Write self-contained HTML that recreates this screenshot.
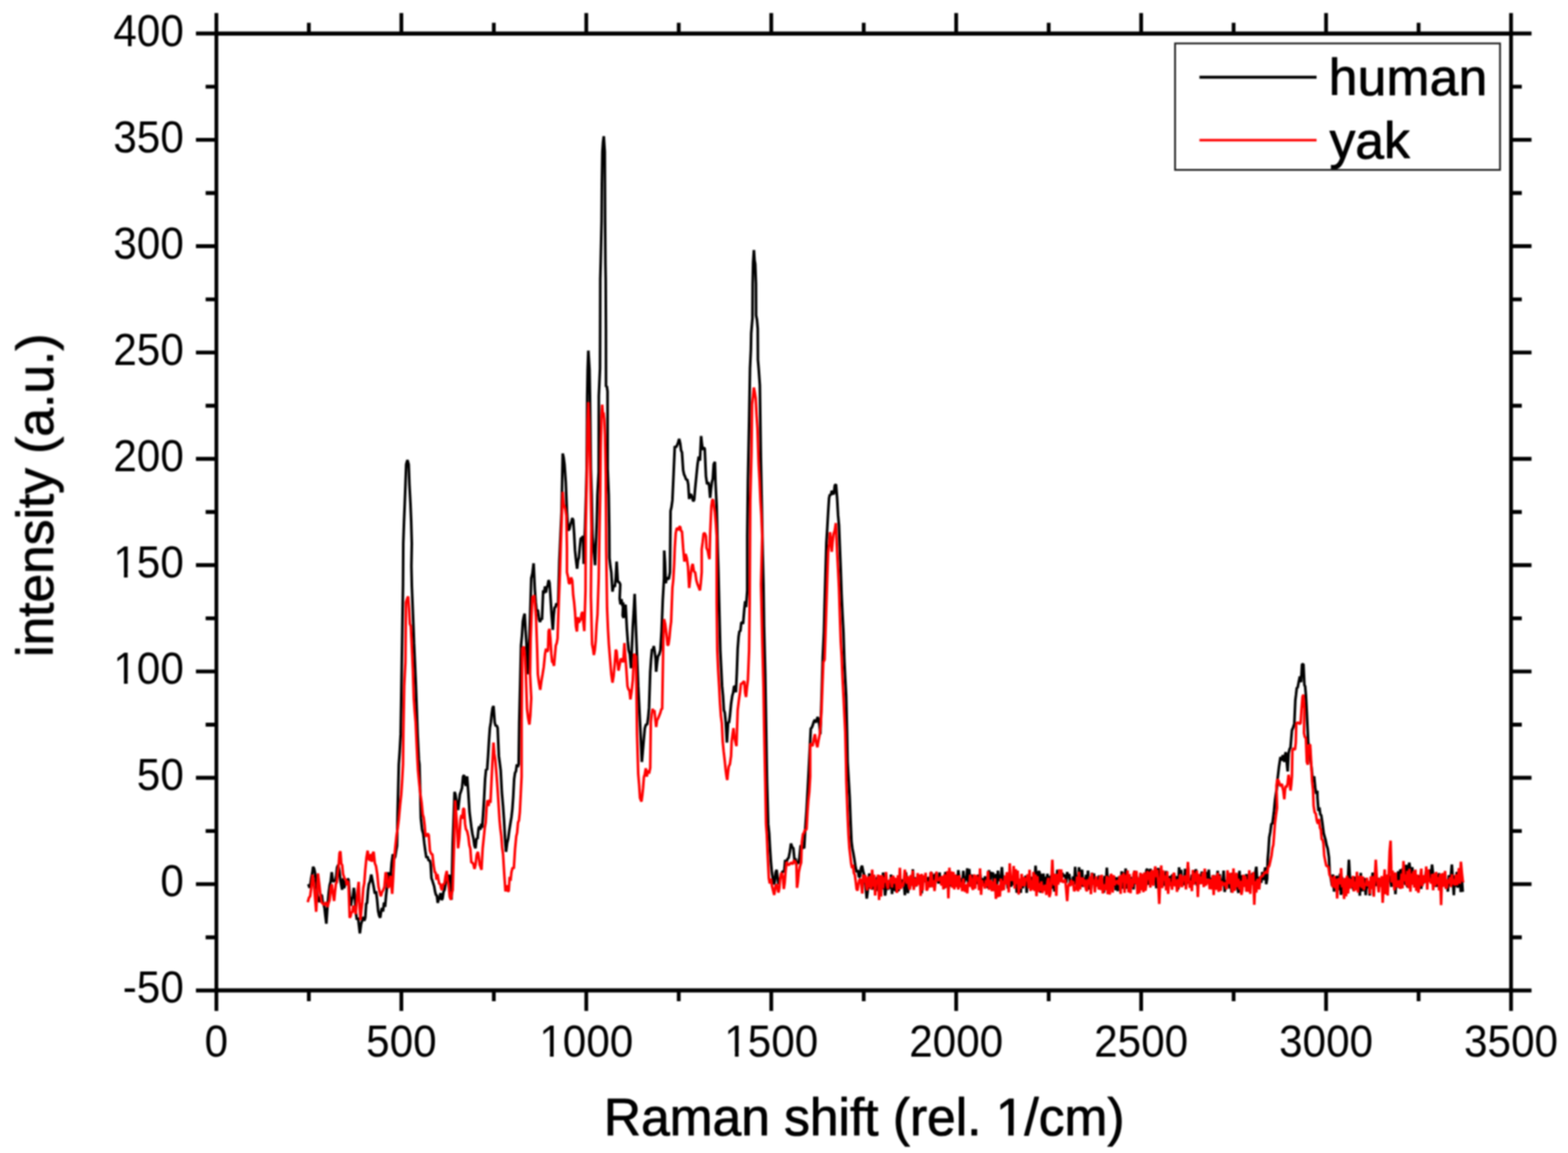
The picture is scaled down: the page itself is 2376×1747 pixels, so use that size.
<!DOCTYPE html>
<html lang="en"><head><meta charset="utf-8"><title>Raman spectra: human vs yak</title>
<style>
html,body{margin:0;padding:0;background:#fff;}
body{width:2376px;height:1747px;overflow:hidden;font-family:"Liberation Sans",Arial,sans-serif;}
svg{display:block}
</style></head><body>
<svg width="2376" height="1747" viewBox="0 0 2376 1747">
<rect x="0" y="0" width="2376" height="1747" fill="#fff"/>
<defs><filter id="soft" x="0" y="0" width="2376" height="1747" filterUnits="userSpaceOnUse" color-interpolation-filters="sRGB"><feGaussianBlur stdDeviation="0.8"/></filter></defs>
<g filter="url(#soft)">
<g fill="none" stroke-linejoin="bevel" stroke-linecap="butt">
<path stroke="#000" stroke-width="4.0" d="M467.2,1339.7 469.1,1345.2 470.4,1339.3 471.8,1329.1 473.2,1322.7 474.5,1313.4 475.9,1315.9 477.2,1321.6 479.1,1336.1 480.9,1354.8 482.7,1365.1 484.5,1366.1 486.3,1356.1 487.7,1356.6 489.0,1367.1 490.4,1370.3 491.8,1376.0 493.1,1388.3 494.5,1399.6 496.3,1372.4 498.1,1352.4 499.6,1341.0 501.1,1335.4 502.7,1321.6 504.5,1336.1 506.3,1334.5 508.1,1334.3 509.5,1327.1 510.8,1314.3 512.6,1310.3 514.5,1321.6 515.8,1333.9 517.2,1341.5 518.5,1348.1 519.9,1330.7 521.3,1345.7 522.6,1341.5 524.0,1334.8 525.4,1337.4 526.7,1332.0 528.1,1332.5 529.9,1356.1 531.7,1372.4 533.2,1362.4 534.7,1359.1 536.2,1345.2 537.6,1357.0 539.0,1381.5 540.8,1393.4 542.6,1390.6 544.0,1402.7 545.3,1414.2 547.1,1400.4 549.0,1394.2 550.5,1389.3 552.0,1395.1 553.5,1390.6 554.9,1369.0 556.2,1368.6 557.6,1350.0 558.9,1339.7 560.8,1335.2 562.6,1325.2 564.4,1334.1 566.2,1343.4 568.0,1354.0 569.8,1350.6 571.4,1363.1 573.0,1380.3 574.6,1387.6 576.2,1390.6 577.6,1379.9 578.9,1376.0 580.4,1381.1 581.9,1367.4 583.5,1374.2 585.0,1356.8 586.5,1343.7 588.0,1321.6 589.8,1330.0 591.6,1330.6 593.4,1308.1 595.3,1294.3 597.1,1301.3 598.9,1298.0 600.2,1289.4 601.6,1281.6 602.5,1230.8 604.3,1158.2 605.7,1138.5 607.1,1112.4 608.0,1057.9 608.9,998.0 610.7,885.4 611.1,823.4 612.2,790.7 613.3,763.5 614.4,734.1 615.5,703.6 617.4,697.0 619.3,703.6 620.4,734.1 622.0,763.5 623.1,790.7 624.0,823.4 623.4,858.2 624.1,889.0 625.8,931.3 627.4,974.4 628.8,1005.7 630.1,1036.1 631.5,1074.8 632.8,1112.4 634.7,1150.9 635.6,1158.2 636.7,1197.9 637.7,1239.9 639.6,1257.2 641.4,1263.5 642.9,1277.4 644.5,1289.2 646.1,1299.8 647.8,1297.8 649.5,1303.9 651.2,1303.4 652.5,1308.9 653.8,1330.6 655.2,1334.3 656.5,1338.7 657.9,1343.0 659.3,1351.1 660.6,1356.1 662.0,1356.7 663.3,1367.9 664.7,1362.9 666.1,1359.7 667.6,1353.2 669.1,1363.5 670.6,1361.5 672.1,1351.1 673.6,1348.3 675.1,1339.7 676.5,1331.0 677.9,1331.7 679.2,1336.7 680.6,1325.2 682.4,1341.7 684.2,1363.3 685.1,1317.9 686.0,1278.0 687.4,1240.9 688.8,1199.9 690.1,1203.5 691.5,1212.6 692.9,1223.1 694.2,1227.2 695.6,1214.4 696.9,1203.5 698.5,1199.1 700.1,1193.9 701.7,1176.5 703.3,1174.5 704.7,1186.1 706.0,1190.8 707.8,1176.3 709.6,1200.2 711.5,1230.8 712.8,1241.2 714.2,1252.6 715.8,1263.4 717.4,1270.3 719.0,1281.6 720.5,1285.3 722.1,1270.4 723.6,1270.7 725.1,1256.2 726.4,1252.0 727.8,1257.3 729.2,1248.4 730.5,1254.4 732.0,1234.6 733.6,1209.3 735.1,1179.9 736.6,1165.3 738.1,1166.6 739.6,1145.4 741.0,1121.7 742.3,1103.3 743.7,1094.7 745.1,1081.5 746.4,1072.8 747.8,1069.7 749.6,1094.2 751.1,1100.0 752.6,1099.3 754.1,1103.3 755.9,1145.4 757.3,1156.0 758.7,1167.2 760.5,1201.0 762.3,1221.7 763.8,1243.2 765.3,1271.1 766.8,1290.7 768.5,1277.2 770.1,1270.8 771.7,1258.3 773.4,1247.6 775.0,1238.0 776.4,1225.6 777.7,1207.3 779.1,1180.2 780.5,1170.9 781.8,1168.8 783.2,1158.2 784.5,1162.2 785.9,1158.2 786.8,1094.2 788.2,1036.6 789.5,978.0 790.9,963.6 792.3,941.7 793.6,934.9 795.0,929.9 796.3,953.2 797.7,974.4 799.5,1021.6 800.9,992.5 802.2,967.1 803.2,936.2 805.0,876.3 806.8,868.7 808.6,853.6 810.4,892.7 811.8,912.2 813.1,925.3 815.0,924.3 816.8,938.0 818.3,942.4 819.8,937.4 821.3,939.0 823.1,894.5 824.5,899.2 825.9,888.5 827.2,898.0 828.6,889.9 829.9,887.0 831.3,879.0 832.7,883.1 834.0,901.7 835.8,930.8 837.7,954.4 839.0,932.8 840.4,919.9 841.7,920.3 843.1,914.2 844.5,917.6 845.8,912.6 847.6,849.1 849.3,810.8 850.9,776.0 852.7,687.1 854.1,693.4 855.4,703.4 857.3,730.6 859.1,776.0 860.9,803.3 862.7,802.1 864.5,794.2 865.9,790.2 867.2,785.1 868.6,787.8 870.0,808.7 871.3,833.7 872.7,847.3 874.5,861.8 875.9,849.0 877.2,845.4 878.6,829.2 880.0,816.0 881.8,814.9 883.6,812.4 884.5,854.5 885.5,822.6 886.5,800.0 888.0,750.0 889.0,710.0 889.8,600.0 890.5,560.0 891.5,531.2 893.3,560.0 894.0,600.0 895.3,710.0 896.6,750.0 897.8,812.0 899.1,828.0 900.4,840.1 901.7,856.3 903.0,823.3 904.3,790.0 905.3,750.0 907.2,715.0 907.4,600.0 909.2,558.0 909.4,500.0 909.6,423.0 910.3,395.0 911.6,335.0 912.0,280.0 912.8,230.0 913.8,215.2 914.9,206.5 916.4,230.0 916.7,290.0 916.9,335.0 917.4,400.0 917.8,423.0 918.2,500.0 918.3,586.0 919.5,585.1 920.6,593.0 920.8,710.0 922.4,750.0 923.2,800.0 923.5,845.4 924.9,857.9 926.3,867.2 928.1,896.3 929.9,887.1 931.7,889.0 933.1,875.3 934.4,850.9 936.2,881.8 938.1,881.8 939.9,885.4 939.0,907.2 940.3,915.6 941.7,907.8 943.1,918.3 944.4,912.6 943.5,932.6 945.0,936.1 946.5,919.9 948.0,916.3 949.9,952.6 951.2,970.5 952.6,985.3 954.4,991.3 956.2,1012.5 957.6,979.1 958.9,948.9 960.3,927.0 961.7,899.9 963.5,948.9 965.3,994.3 967.1,1039.7 968.9,1076.0 970.7,1112.4 972.6,1154.5 973.9,1139.7 975.3,1123.3 977.1,1103.3 978.9,1097.7 980.7,1097.8 982.1,1087.9 983.5,1072.4 985.3,1017.9 986.6,999.0 988.0,983.4 989.4,984.6 990.7,978.9 992.1,987.6 993.4,998.0 994.3,1017.9 995.7,1004.0 997.1,994.3 998.9,991.6 1000.7,985.3 1002.5,956.2 1004.3,909.0 1006.2,876.3 1006.5,834.1 1007.7,852.2 1008.9,883.6 1010.2,875.3 1011.6,876.3 1013.4,877.5 1015.2,867.2 1016.1,774.2 1017.5,768.3 1018.9,757.9 1020.7,717.9 1022.5,676.2 1024.3,677.9 1026.1,674.4 1027.6,670.4 1029.1,665.0 1030.7,671.6 1032.0,682.3 1033.4,685.3 1035.2,712.5 1036.6,719.0 1037.9,721.6 1039.7,726.6 1041.6,727.0 1042.9,734.1 1044.3,756.1 1045.6,750.0 1047.0,748.8 1048.8,754.0 1050.6,759.7 1052.0,756.8 1053.4,739.7 1055.2,721.6 1057.0,703.4 1058.8,691.8 1060.6,698.0 1062.4,660.7 1063.8,674.2 1065.2,681.6 1066.5,678.5 1067.9,679.8 1069.7,721.6 1071.5,733.6 1073.3,730.6 1074.7,736.6 1076.1,754.3 1077.4,740.7 1078.8,730.6 1080.1,725.5 1081.5,703.4 1083.3,699.8 1084.2,730.6 1086.0,767.0 1087.5,830.5 1088.6,866.2 1089.7,912.6 1091.5,985.3 1092.9,1013.0 1094.2,1039.7 1095.6,1054.1 1096.9,1076.0 1098.3,1079.9 1099.7,1094.2 1101.5,1125.1 1103.3,1094.2 1104.7,1095.0 1106.0,1085.1 1107.8,1066.5 1109.6,1054.3 1111.0,1049.5 1112.4,1039.7 1113.7,1040.3 1115.1,1048.8 1116.5,1019.9 1117.8,983.4 1119.2,964.9 1120.5,956.2 1121.9,956.4 1123.3,943.5 1124.6,943.0 1126.0,945.3 1127.8,923.5 1129.2,910.9 1130.5,919.9 1132.3,894.5 1132.3,812.4 1133.3,730.6 1135.1,639.9 1136.5,558.2 1137.8,530.0 1138.3,505.0 1140.2,482.0 1140.5,430.0 1141.2,398.0 1142.4,378.9 1143.4,394.3 1144.4,400.0 1145.5,430.0 1145.7,478.0 1147.0,484.1 1148.2,498.0 1148.5,545.0 1149.6,558.2 1151.4,583.6 1152.9,692.5 1154.7,781.5 1155.8,839.9 1156.9,885.4 1157.8,948.9 1159.6,1021.6 1160.5,1076.0 1161.8,1158.2 1162.3,1185.4 1164.1,1248.9 1165.5,1262.2 1166.8,1285.3 1168.2,1306.1 1169.6,1321.6 1170.9,1329.9 1172.3,1339.7 1173.8,1337.1 1175.3,1322.1 1176.8,1317.9 1178.2,1329.4 1179.6,1339.7 1180.9,1332.0 1182.3,1330.6 1183.8,1328.2 1185.3,1321.0 1186.8,1320.5 1188.3,1320.3 1189.8,1302.8 1191.4,1308.9 1193.2,1301.6 1195.0,1299.8 1196.8,1290.9 1198.6,1278.0 1200.4,1283.6 1202.2,1285.3 1204.1,1305.2 1205.4,1300.6 1206.8,1310.8 1208.1,1305.2 1209.5,1308.9 1211.3,1299.8 1213.1,1281.6 1214.5,1281.2 1215.9,1285.8 1217.2,1283.3 1218.6,1285.3 1220.4,1252.6 1222.2,1226.7 1224.0,1194.5 1225.5,1166.6 1227.1,1133.6 1228.6,1103.3 1229.9,1103.1 1231.3,1099.6 1233.1,1093.6 1234.9,1090.6 1236.3,1094.8 1237.7,1090.3 1239.0,1086.5 1240.4,1090.6 1241.7,1099.2 1243.1,1112.4 1244.9,1057.9 1246.7,996.2 1248.5,958.0 1249.5,918.0 1250.8,871.3 1252.2,822.6 1253.5,801.3 1254.9,776.3 1256.3,754.5 1257.6,749.2 1259.0,750.3 1260.4,743.6 1261.9,746.6 1263.4,749.1 1265.0,735.4 1266.8,734.0 1268.5,754.5 1269.9,780.2 1271.3,795.4 1272.6,828.7 1274.0,863.5 1275.3,902.2 1276.7,931.6 1278.1,957.9 1279.4,999.7 1280.8,1028.1 1282.2,1054.2 1283.5,1108.7 1284.4,1154.5 1286.2,1185.4 1287.5,1207.8 1288.9,1243.5 1290.3,1275.3 1291.6,1285.3 1293.0,1292.3 1294.3,1299.8 1296.2,1312.1 1298.0,1321.6 1299.8,1318.4 1301.6,1328.8 1303.1,1328.2 1304.6,1315.8 1306.2,1311.6 1308.0,1320.2 1309.8,1327.0 1311.6,1342.6 1313.4,1361.5 1315.7,1342.8 1317.2,1323.3 1318.7,1346.1 1320.2,1328.1 1321.7,1348.0 1323.2,1327.6 1324.7,1338.9 1326.2,1346.9 1327.7,1350.0 1329.2,1328.6 1330.7,1341.7 1332.2,1332.1 1333.7,1345.9 1335.2,1335.3 1336.7,1347.2 1338.2,1322.1 1339.7,1333.3 1341.2,1357.1 1342.7,1346.2 1344.2,1336.9 1345.7,1348.2 1347.2,1333.4 1348.7,1346.7 1350.2,1325.2 1351.7,1354.6 1353.2,1333.1 1354.7,1349.9 1356.2,1335.4 1357.7,1351.1 1359.2,1332.4 1360.7,1349.3 1362.2,1348.4 1363.7,1327.2 1365.2,1341.5 1366.7,1332.6 1368.2,1343.5 1369.7,1338.4 1371.2,1356.3 1372.7,1321.7 1374.2,1335.8 1375.7,1353.3 1377.2,1338.3 1378.7,1345.1 1380.2,1334.4 1381.7,1340.6 1383.2,1317.2 1384.7,1345.1 1386.2,1329.2 1387.7,1343.1 1389.2,1337.5 1390.7,1339.4 1392.2,1331.0 1393.7,1331.6 1395.2,1338.9 1396.7,1353.6 1398.2,1327.1 1399.7,1333.0 1401.2,1328.5 1402.7,1336.7 1404.2,1333.3 1405.7,1338.9 1407.2,1328.8 1408.7,1344.4 1410.2,1322.7 1411.7,1322.2 1413.2,1339.5 1414.7,1324.8 1416.2,1338.5 1417.7,1323.2 1419.2,1335.4 1420.7,1330.1 1422.2,1338.6 1423.7,1321.9 1425.2,1338.8 1426.7,1330.8 1428.2,1340.9 1429.7,1327.4 1431.2,1346.0 1432.7,1321.2 1434.2,1340.5 1435.7,1341.2 1437.2,1346.6 1438.7,1335.9 1440.2,1342.8 1441.7,1328.4 1443.2,1325.7 1444.7,1338.2 1446.2,1333.0 1447.7,1337.6 1449.2,1325.5 1450.7,1337.7 1452.2,1318.4 1453.7,1332.6 1455.2,1336.0 1456.7,1330.4 1458.2,1342.1 1459.7,1319.4 1461.2,1337.6 1462.7,1328.0 1464.2,1333.8 1465.7,1315.7 1467.2,1342.3 1468.7,1316.6 1470.2,1343.4 1471.7,1327.7 1473.2,1325.7 1474.7,1339.3 1476.2,1330.7 1477.7,1339.6 1479.2,1327.5 1480.7,1339.5 1482.2,1325.3 1483.7,1333.6 1485.2,1324.8 1486.7,1334.5 1488.2,1330.7 1489.7,1339.7 1491.2,1339.4 1492.7,1327.8 1494.2,1335.4 1495.7,1328.9 1497.2,1345.9 1498.7,1318.4 1500.2,1341.2 1501.7,1321.1 1503.2,1328.2 1504.7,1321.8 1506.2,1344.3 1507.7,1341.5 1509.2,1324.1 1510.7,1340.2 1512.2,1319.2 1513.7,1335.1 1515.2,1325.8 1516.7,1330.7 1518.2,1313.8 1519.7,1336.0 1521.2,1326.7 1522.7,1338.6 1524.2,1336.4 1525.7,1331.4 1527.2,1346.2 1528.7,1328.0 1530.2,1338.6 1531.7,1343.2 1533.2,1340.0 1534.7,1327.7 1536.2,1340.9 1537.7,1323.9 1539.2,1331.0 1540.7,1352.7 1542.2,1337.4 1543.7,1345.1 1545.2,1332.0 1546.7,1352.9 1548.2,1329.7 1549.7,1345.8 1551.2,1338.4 1552.7,1341.1 1554.2,1326.8 1555.7,1352.8 1557.2,1332.0 1558.7,1337.2 1560.2,1334.9 1561.7,1341.7 1563.2,1328.5 1564.7,1336.5 1566.2,1331.9 1567.7,1337.1 1569.2,1311.6 1570.7,1332.1 1572.2,1324.6 1573.7,1320.3 1575.2,1321.4 1576.7,1352.7 1578.2,1323.8 1579.7,1339.8 1581.2,1323.7 1582.7,1348.2 1584.2,1328.4 1585.7,1342.1 1587.2,1324.0 1588.7,1344.5 1590.2,1327.2 1591.7,1341.3 1593.2,1325.7 1594.7,1346.5 1596.2,1323.5 1597.7,1350.8 1599.2,1325.2 1600.7,1337.1 1602.2,1318.0 1603.7,1334.1 1605.2,1336.4 1606.7,1321.0 1608.2,1330.0 1609.7,1322.5 1611.2,1327.2 1612.7,1327.7 1614.2,1325.3 1615.7,1337.5 1617.2,1321.3 1618.7,1330.6 1620.2,1324.3 1621.7,1338.9 1623.2,1340.5 1624.7,1336.5 1626.2,1328.0 1627.7,1340.5 1629.2,1313.4 1630.7,1337.8 1632.2,1327.1 1633.7,1337.0 1635.2,1314.0 1636.7,1340.3 1638.2,1324.1 1639.7,1317.8 1641.2,1344.0 1642.7,1329.6 1644.2,1342.9 1645.7,1325.3 1647.2,1337.9 1648.7,1319.2 1650.2,1347.9 1651.7,1336.4 1653.2,1346.3 1654.7,1322.4 1656.2,1340.4 1657.7,1323.5 1659.2,1343.7 1660.7,1333.5 1662.2,1340.0 1663.7,1339.1 1665.2,1326.4 1666.7,1340.9 1668.2,1326.6 1669.7,1345.4 1671.2,1331.2 1672.7,1352.7 1674.2,1327.0 1675.7,1341.8 1677.2,1314.5 1678.7,1340.0 1680.2,1327.7 1681.7,1333.3 1683.2,1331.8 1684.7,1341.2 1686.2,1333.3 1687.7,1343.3 1689.2,1328.7 1690.7,1348.9 1692.2,1329.5 1693.7,1350.3 1695.2,1328.7 1696.7,1333.6 1698.2,1345.2 1699.7,1320.0 1701.2,1346.7 1702.7,1321.6 1704.2,1338.9 1705.7,1315.8 1707.2,1346.5 1708.7,1340.5 1710.2,1330.8 1711.7,1339.8 1713.2,1328.6 1714.7,1344.8 1716.2,1336.7 1717.7,1347.6 1719.2,1319.1 1720.7,1339.8 1722.2,1327.0 1723.7,1343.7 1725.2,1331.0 1726.7,1341.2 1728.2,1322.9 1729.7,1337.6 1731.2,1344.6 1732.7,1327.9 1734.2,1338.4 1735.7,1343.0 1737.2,1318.2 1738.7,1316.6 1740.2,1340.5 1741.7,1331.4 1743.2,1316.4 1744.7,1323.7 1746.2,1338.5 1747.7,1326.6 1749.2,1336.6 1750.7,1316.9 1752.2,1345.9 1753.7,1327.2 1755.2,1315.2 1756.7,1341.2 1758.2,1327.8 1759.7,1331.9 1761.2,1343.9 1762.7,1324.6 1764.2,1342.1 1765.7,1329.9 1767.2,1319.7 1768.7,1342.7 1770.2,1331.1 1771.7,1340.7 1773.2,1327.3 1774.7,1337.4 1776.2,1324.9 1777.7,1335.6 1779.2,1324.2 1780.7,1340.2 1782.2,1329.6 1783.7,1328.6 1785.2,1348.0 1786.7,1314.1 1788.2,1339.9 1789.7,1317.9 1791.2,1337.3 1792.7,1334.5 1794.2,1341.2 1795.7,1316.4 1797.2,1335.5 1798.7,1339.1 1800.2,1314.5 1801.7,1337.2 1803.2,1331.5 1804.7,1340.3 1806.2,1325.2 1807.7,1338.6 1809.2,1318.4 1810.7,1338.9 1812.2,1316.8 1813.7,1341.9 1815.2,1331.9 1816.7,1337.7 1818.2,1327.1 1819.7,1330.7 1821.2,1320.6 1822.7,1336.6 1824.2,1327.6 1825.7,1333.1 1827.2,1322.7 1828.7,1323.0 1830.2,1331.4 1831.7,1317.7 1833.2,1345.3 1834.7,1330.0 1836.2,1336.3 1837.7,1332.8 1839.2,1325.9 1840.7,1338.4 1842.2,1342.9 1843.7,1331.8 1845.2,1319.4 1846.7,1344.8 1848.2,1324.7 1849.7,1339.5 1851.2,1332.2 1852.7,1338.1 1854.2,1319.2 1855.7,1351.3 1857.2,1343.1 1858.7,1333.7 1860.2,1339.0 1861.7,1332.1 1863.2,1346.4 1864.7,1332.9 1866.2,1352.1 1867.7,1322.4 1869.2,1339.9 1870.7,1332.5 1872.2,1341.5 1873.7,1324.5 1875.2,1345.5 1876.7,1353.0 1878.2,1319.3 1879.7,1349.1 1881.2,1340.3 1882.7,1326.3 1884.2,1341.8 1885.7,1330.5 1887.2,1334.4 1888.7,1324.5 1890.2,1334.3 1891.7,1325.0 1893.2,1343.0 1894.7,1329.0 1896.2,1337.9 1897.7,1322.9 1899.2,1330.9 1900.7,1341.1 1902.2,1322.4 1903.7,1313.2 1905.2,1335.5 1906.7,1328.8 1908.2,1341.3 1909.7,1328.6 1911.2,1337.5 1912.7,1321.1 1914.2,1333.4 1915.7,1323.5 1917.2,1314.2 1918.7,1339.7 1920.1,1331.4 1920.9,1302.5 1922.1,1288.3 1923.3,1268.9 1924.9,1260.6 1926.5,1248.3 1928.1,1248.1 1929.3,1238.6 1930.5,1228.8 1932.1,1212.0 1933.7,1200.8 1934.8,1194.9 1935.9,1180.5 1937.0,1170.9 1938.1,1161.6 1939.2,1154.2 1940.3,1147.0 1942.1,1152.4 1943.9,1144.1 1945.0,1148.8 1946.1,1154.3 1947.2,1144.3 1948.3,1139.8 1949.7,1153.5 1951.2,1168.8 1952.6,1141.2 1954.1,1134.9 1955.5,1132.5 1956.6,1119.2 1957.7,1106.4 1959.5,1102.4 1961.3,1096.2 1962.8,1061.3 1963.9,1052.3 1965.0,1042.5 1966.4,1041.6 1967.9,1033.7 1969.7,1024.8 1971.5,1033.7 1973.0,1006.1 1974.1,1006.5 1975.1,1006.1 1976.6,1038.1 1977.7,1039.9 1978.8,1052.6 1980.2,1078.8 1981.7,1110.7 1982.4,1125.3 1983.6,1129.3 1984.7,1128.2 1986.2,1154.3 1987.3,1162.2 1988.4,1173.2 1989.8,1184.7 1991.3,1176.1 1993.0,1193.5 1994.6,1203.0 1996.2,1197.9 1996.3,1208.0 1997.9,1228.8 1999.3,1223.4 2000.7,1234.2 2002.1,1235.2 2003.9,1247.6 2005.8,1262.5 2007.2,1267.5 2008.7,1272.9 2010.1,1280.1 2011.9,1285.8 2013.8,1299.3 2015.0,1324.1 2016.2,1328.2 2018.5,1342.2 2020.0,1325.0 2021.5,1351.0 2023.0,1328.5 2024.5,1345.6 2026.0,1326.9 2027.5,1347.1 2029.0,1347.2 2030.5,1323.8 2032.0,1356.0 2033.5,1328.5 2035.0,1353.9 2036.5,1332.4 2038.0,1341.3 2039.5,1333.1 2041.0,1348.5 2042.5,1334.1 2044.0,1302.5 2045.5,1328.9 2047.0,1343.6 2048.5,1329.3 2050.0,1344.9 2051.5,1349.7 2053.0,1328.2 2054.5,1344.7 2056.0,1329.2 2057.5,1347.9 2059.0,1331.1 2060.5,1357.2 2062.0,1322.6 2063.5,1347.6 2065.0,1350.0 2066.5,1330.6 2068.0,1333.7 2069.5,1356.4 2071.0,1334.2 2072.5,1345.6 2074.0,1335.4 2075.5,1356.9 2077.0,1334.0 2078.5,1342.8 2080.0,1322.2 2081.5,1356.3 2083.0,1326.0 2084.5,1342.5 2086.0,1334.0 2087.5,1338.2 2089.0,1330.3 2090.5,1334.8 2092.0,1338.6 2093.5,1336.6 2095.0,1334.7 2096.5,1347.9 2098.0,1334.3 2099.5,1349.3 2101.0,1325.4 2102.5,1350.2 2104.0,1325.4 2105.5,1336.3 2107.0,1326.8 2108.5,1343.7 2110.0,1323.0 2111.5,1342.0 2113.0,1322.9 2114.5,1355.0 2116.0,1330.1 2117.5,1333.8 2119.0,1320.0 2120.5,1345.7 2122.0,1317.0 2123.5,1338.4 2125.0,1315.8 2126.5,1337.7 2128.0,1320.2 2129.5,1340.8 2131.0,1310.4 2132.5,1344.3 2134.0,1319.0 2135.5,1307.0 2137.0,1317.8 2138.5,1339.7 2140.0,1313.8 2141.5,1340.3 2143.0,1321.1 2144.5,1331.1 2146.0,1328.0 2147.5,1333.1 2149.0,1326.4 2150.5,1342.3 2152.0,1330.9 2153.5,1346.8 2155.0,1328.0 2156.5,1339.2 2158.0,1331.2 2159.5,1334.0 2161.0,1318.8 2162.5,1333.7 2164.0,1319.9 2165.5,1336.1 2167.0,1317.5 2168.5,1325.1 2170.0,1310.0 2171.5,1324.5 2173.0,1332.6 2174.5,1328.8 2176.0,1343.7 2177.5,1326.0 2179.0,1343.9 2180.5,1323.0 2182.0,1339.9 2183.5,1332.3 2185.0,1343.5 2186.5,1331.8 2188.0,1341.8 2189.5,1325.8 2191.0,1346.7 2192.5,1335.0 2194.0,1351.0 2195.5,1326.0 2197.0,1341.9 2198.5,1326.6 2200.0,1310.0 2201.5,1333.5 2203.0,1356.3 2204.5,1326.5 2206.0,1343.5 2207.5,1321.2 2209.0,1345.2 2210.5,1319.8 2212.0,1322.1 2213.5,1351.6 2215.0,1328.7 2216.5,1351.3"/>
<path stroke="#ff0000" stroke-width="3.9" d="M466.3,1367.0 468.2,1360.2 470.0,1357.9 471.8,1343.6 473.6,1325.2 475.4,1335.9 477.2,1357.9 479.1,1381.5 480.4,1355.5 481.8,1323.4 483.6,1338.2 485.4,1354.3 487.2,1367.0 489.0,1368.8 490.6,1370.6 492.1,1371.4 493.6,1367.0 494.9,1370.2 496.3,1374.2 497.9,1368.1 499.5,1363.8 501.1,1345.7 502.7,1339.7 504.5,1354.0 506.3,1365.1 507.6,1351.8 509.0,1338.9 510.4,1336.9 511.7,1321.6 513.1,1311.4 514.5,1292.5 515.8,1289.8 517.2,1308.9 518.5,1310.6 519.9,1324.6 521.3,1328.6 522.6,1332.5 524.0,1331.4 525.4,1341.3 526.7,1334.5 528.1,1339.7 529.9,1390.6 531.3,1388.3 532.6,1381.2 534.0,1383.1 535.3,1372.4 537.2,1375.6 539.0,1385.1 540.5,1366.7 542.0,1349.4 543.5,1336.1 544.9,1373.3 546.2,1394.2 547.6,1378.5 549.0,1367.0 550.5,1345.8 552.0,1338.2 553.5,1317.9 555.3,1299.5 557.1,1288.9 558.9,1301.9 560.8,1303.4 562.1,1294.0 563.5,1305.8 564.8,1293.2 566.2,1290.7 568.0,1307.9 569.8,1312.5 571.7,1324.6 573.5,1343.4 575.3,1351.3 577.1,1357.9 578.9,1351.8 580.7,1348.8 582.5,1344.0 584.4,1321.6 586.2,1327.0 588.0,1345.2 589.8,1342.1 591.6,1327.0 593.0,1341.2 594.3,1354.3 595.7,1331.3 597.1,1303.4 598.9,1284.5 600.7,1267.1 602.5,1255.7 604.3,1241.7 606.2,1220.5 608.0,1203.5 609.3,1184.0 610.7,1158.2 611.2,1112.4 612.5,1039.7 614.3,1003.4 615.2,912.6 617.0,907.2 618.4,903.7 619.8,921.7 621.1,945.2 622.5,948.9 624.3,985.3 625.7,1016.9 627.0,1057.9 628.4,1077.6 629.8,1094.2 631.1,1122.1 632.5,1150.9 633.4,1167.2 635.2,1186.3 637.0,1203.5 638.8,1215.7 640.6,1234.4 642.0,1238.7 643.4,1249.7 644.7,1266.2 646.1,1267.1 647.9,1263.0 649.7,1265.3 651.5,1288.9 653.4,1293.8 655.2,1294.3 657.0,1310.9 658.8,1321.6 660.2,1322.3 661.5,1333.0 662.9,1324.6 664.3,1332.5 665.6,1339.6 667.0,1338.8 668.3,1345.1 669.7,1348.8 671.5,1339.3 673.3,1339.7 675.1,1327.8 677.0,1319.8 678.3,1334.1 679.7,1339.7 681.5,1358.8 683.3,1363.3 684.7,1353.2 686.0,1348.8 687.9,1285.3 689.7,1212.6 691.0,1229.4 692.4,1248.9 694.2,1285.3 696.0,1269.9 697.8,1241.7 699.2,1235.0 700.6,1240.6 701.9,1225.5 703.3,1225.3 704.7,1248.2 706.0,1256.2 707.8,1259.3 709.6,1267.1 711.2,1280.6 712.7,1286.0 714.2,1307.0 715.8,1306.6 717.4,1309.6 719.0,1316.5 720.5,1310.7 722.4,1295.2 724.2,1290.7 725.5,1298.5 726.9,1310.4 728.3,1313.9 729.6,1317.9 731.4,1285.5 733.3,1267.1 734.6,1254.2 736.0,1246.0 737.3,1223.8 738.7,1212.6 740.2,1221.1 741.7,1211.8 743.2,1216.3 744.6,1187.3 746.0,1158.2 747.8,1125.1 749.1,1142.0 750.5,1150.9 752.3,1172.7 753.8,1193.0 755.3,1215.8 756.9,1241.7 758.2,1255.8 759.6,1266.5 760.9,1284.2 762.3,1294.3 764.1,1324.6 765.9,1350.6 767.7,1341.4 769.6,1350.6 770.9,1349.9 772.3,1328.7 773.6,1334.5 775.0,1321.6 776.8,1314.6 778.6,1316.1 780.5,1285.7 782.3,1267.1 783.6,1261.9 785.0,1246.1 786.4,1243.1 787.7,1230.8 789.1,1203.2 790.4,1176.3 790.4,1094.2 791.4,981.6 792.7,981.6 794.1,979.8 795.4,994.3 796.8,1021.6 798.6,1074.2 800.4,1088.7 802.2,1097.8 803.6,1084.3 805.0,1057.9 803.2,1021.6 804.1,967.1 805.4,933.6 806.8,903.5 808.1,905.6 809.5,901.7 810.9,917.8 812.2,934.4 814.0,985.3 815.0,1021.6 816.8,1035.2 818.6,1045.2 820.4,1031.9 822.2,1021.6 824.0,1010.2 825.9,990.7 827.4,982.8 828.9,987.5 830.4,985.3 831.3,956.2 832.7,953.0 834.0,967.1 835.4,990.4 836.7,1003.4 838.1,1003.4 839.5,1008.9 840.8,994.1 842.2,978.0 843.6,974.6 844.9,967.1 846.7,912.6 848.5,867.2 849.7,826.8 850.9,794.2 852.7,745.2 854.1,764.1 855.4,767.0 856.8,772.3 858.2,781.5 859.1,830.5 859.1,867.2 860.6,873.5 862.1,884.0 863.6,883.6 865.4,874.8 867.2,879.9 868.6,901.8 870.0,912.6 871.3,926.7 872.7,948.9 874.2,956.9 875.7,935.2 877.2,943.5 878.6,940.5 880.0,938.4 881.3,929.8 882.7,927.2 884.0,943.0 885.4,956.2 887.2,894.5 887.6,800.0 888.6,750.0 889.6,700.0 890.4,640.0 891.5,609.4 892.8,640.0 894.2,700.0 895.2,750.0 896.2,800.0 895.4,903.5 897.2,976.2 898.6,983.1 899.9,992.5 901.3,985.1 902.7,970.7 904.0,946.8 905.4,930.8 907.2,876.3 908.3,810.0 909.5,750.0 910.3,680.0 911.4,630.0 912.5,613.2 913.5,626.3 914.5,625.0 915.6,634.9 916.8,660.0 917.9,720.0 918.3,780.0 918.6,835.0 919.9,921.7 921.3,953.9 922.6,976.2 924.4,998.3 926.3,1021.6 928.1,1034.3 929.9,1023.7 931.7,1003.4 933.1,984.3 934.4,987.1 935.8,1003.4 937.2,1016.1 939.0,1007.1 940.8,998.0 942.6,999.9 944.4,1003.4 946.2,974.4 947.6,995.0 949.0,1012.5 950.8,1039.7 952.3,1044.6 953.8,1045.7 955.3,1059.7 957.1,1047.5 958.9,1030.6 960.8,990.7 962.1,992.7 963.5,994.3 964.4,1039.7 965.3,1112.4 967.1,1172.7 968.5,1189.1 969.8,1209.0 970.9,1211.8 972.0,1214.4 973.2,1205.7 974.4,1194.5 975.7,1177.6 977.1,1172.7 978.6,1164.1 980.1,1176.8 981.6,1167.2 983.5,1172.0 985.3,1163.6 986.2,1094.2 987.5,1082.0 988.9,1074.2 990.3,1078.2 991.6,1076.0 993.0,1089.6 994.3,1101.5 995.7,1090.8 997.1,1088.8 998.9,1084.5 1000.7,1079.7 1002.1,1074.6 1003.4,1074.2 1004.3,1021.6 1005.2,967.1 1006.2,938.0 1008.0,945.5 1009.8,959.8 1011.6,978.0 1013.0,976.3 1014.3,967.1 1015.7,951.8 1017.0,941.7 1018.9,890.8 1020.2,879.1 1021.6,854.5 1022.5,830.5 1023.9,808.2 1025.2,801.5 1026.6,800.1 1027.9,803.5 1029.3,798.5 1030.7,797.8 1032.0,804.6 1033.4,805.1 1035.2,830.5 1037.0,850.9 1038.8,839.2 1040.6,845.4 1042.5,858.2 1044.3,890.8 1045.6,879.9 1047.0,867.2 1048.4,858.2 1049.7,854.5 1051.5,865.8 1053.4,867.2 1055.2,879.3 1057.0,885.4 1058.8,889.9 1060.6,894.5 1062.0,882.7 1063.3,867.2 1063.3,832.3 1064.7,821.8 1066.1,808.7 1067.9,807.6 1069.7,812.4 1070.6,830.5 1072.4,834.1 1073.8,841.8 1075.1,847.3 1076.1,808.7 1077.9,767.0 1079.2,757.8 1080.6,757.0 1082.0,767.5 1083.3,776.0 1084.7,793.1 1086.0,812.4 1086.0,912.6 1086.9,985.3 1088.3,1016.6 1089.7,1039.7 1091.0,1065.4 1092.4,1085.1 1093.8,1095.7 1095.1,1123.3 1096.6,1138.7 1098.1,1151.8 1099.7,1167.2 1100.8,1175.7 1102.0,1181.8 1103.1,1170.9 1104.2,1161.8 1106.0,1157.9 1107.8,1145.4 1108.7,1123.3 1110.1,1112.4 1111.5,1103.3 1112.8,1117.6 1114.2,1123.3 1116.0,1130.5 1117.8,1076.0 1119.6,1060.9 1121.4,1048.8 1122.8,1035.4 1124.2,1036.1 1126.0,1033.5 1127.8,1032.5 1129.2,1050.2 1130.5,1056.1 1131.9,1041.4 1133.3,1030.6 1135.1,985.3 1136.0,912.6 1136.9,757.9 1138.7,685.3 1139.6,612.6 1141.0,600.7 1142.3,587.2 1143.7,594.6 1145.1,603.5 1146.4,627.9 1147.8,648.9 1149.6,703.4 1151.0,727.9 1152.3,757.9 1153.7,780.2 1155.0,812.4 1153.2,885.4 1155.0,967.1 1156.9,1039.7 1157.9,1101.3 1159.0,1158.2 1159.6,1185.4 1160.8,1248.9 1162.0,1265.4 1163.2,1294.3 1165.0,1330.6 1166.5,1338.7 1168.1,1331.3 1169.6,1341.5 1171.4,1349.1 1173.2,1356.1 1175.0,1343.0 1176.8,1339.7 1178.2,1346.4 1179.6,1352.4 1180.9,1346.2 1182.3,1330.6 1183.6,1323.4 1185.0,1323.4 1186.4,1330.3 1187.7,1347.0 1189.1,1337.5 1190.4,1319.8 1192.0,1305.8 1193.5,1309.4 1195.0,1310.7 1196.8,1309.3 1198.6,1307.0 1200.1,1308.4 1201.6,1308.9 1203.2,1303.4 1205.0,1305.7 1206.8,1308.9 1207.7,1345.2 1209.1,1336.3 1210.4,1321.6 1212.2,1312.9 1214.0,1307.0 1215.0,1276.2 1216.8,1263.5 1218.1,1262.6 1219.5,1257.9 1220.9,1257.6 1222.2,1256.2 1223.6,1229.9 1224.9,1212.6 1226.3,1200.1 1227.7,1176.3 1227.7,1126.9 1229.5,1127.8 1231.3,1130.5 1233.1,1119.8 1234.9,1112.4 1236.7,1125.1 1238.6,1132.3 1240.4,1121.3 1242.2,1112.4 1243.6,1097.3 1244.9,1076.0 1246.3,1036.8 1247.6,1003.4 1249.5,999.7 1250.8,962.4 1252.2,918.0 1253.5,877.0 1254.9,836.2 1256.3,823.9 1257.6,806.3 1259.0,816.5 1260.4,836.2 1261.7,821.1 1263.1,809.0 1264.9,803.9 1266.6,792.6 1268.5,836.2 1269.9,862.2 1271.3,890.7 1272.6,931.8 1274.0,972.5 1275.3,993.7 1276.7,1027.5 1278.1,1054.2 1279.4,1080.6 1280.8,1108.7 1282.0,1158.2 1282.5,1185.4 1284.4,1236.2 1285.7,1264.4 1287.1,1285.3 1288.4,1296.3 1289.8,1308.9 1291.2,1315.3 1292.5,1310.2 1293.9,1322.9 1295.3,1325.2 1296.6,1335.1 1298.0,1347.0 1299.3,1349.4 1300.7,1339.7 1302.5,1332.5 1304.3,1332.5 1306.6,1353.9 1308.1,1325.2 1309.6,1337.3 1311.1,1325.8 1312.6,1343.0 1314.1,1349.2 1315.6,1328.3 1317.1,1344.9 1318.6,1326.8 1320.1,1347.5 1321.6,1317.6 1323.1,1343.4 1324.6,1325.4 1326.1,1357.0 1327.6,1332.5 1329.1,1339.2 1330.6,1325.1 1332.1,1363.6 1333.6,1326.0 1335.1,1358.5 1336.6,1326.0 1338.1,1346.0 1339.6,1329.2 1341.1,1337.5 1342.6,1321.3 1344.1,1341.7 1345.6,1347.1 1347.1,1334.5 1348.6,1335.1 1350.1,1328.9 1351.6,1344.9 1353.1,1326.9 1354.6,1330.4 1356.1,1339.0 1357.6,1330.2 1359.1,1352.8 1360.6,1326.1 1362.1,1347.8 1363.6,1314.9 1365.1,1346.6 1366.6,1339.0 1368.1,1343.4 1369.6,1334.2 1371.1,1317.7 1372.6,1330.6 1374.1,1338.8 1375.6,1327.4 1377.1,1342.3 1378.6,1348.0 1380.1,1325.9 1381.6,1342.2 1383.1,1319.0 1384.6,1348.3 1386.1,1336.1 1387.6,1330.5 1389.1,1342.9 1390.6,1323.0 1392.1,1340.5 1393.6,1325.0 1395.1,1357.3 1396.6,1324.2 1398.1,1349.2 1399.6,1326.4 1401.1,1335.5 1402.6,1322.4 1404.1,1349.3 1405.6,1346.7 1407.1,1335.6 1408.6,1344.6 1410.1,1322.8 1411.6,1322.1 1413.1,1344.4 1414.6,1333.7 1416.1,1350.1 1417.6,1335.5 1419.1,1320.7 1420.6,1334.8 1422.1,1332.6 1423.6,1333.1 1425.1,1328.1 1426.6,1341.7 1428.1,1327.3 1429.6,1347.5 1431.1,1325.0 1432.6,1334.9 1434.1,1344.9 1435.6,1319.9 1437.1,1361.3 1438.6,1314.7 1440.1,1341.3 1441.6,1320.3 1443.1,1345.1 1444.6,1321.1 1446.1,1347.7 1447.6,1324.8 1449.1,1344.4 1450.6,1326.6 1452.1,1347.8 1453.6,1326.1 1455.1,1344.5 1456.6,1336.8 1458.1,1350.4 1459.6,1331.0 1461.1,1343.4 1462.6,1351.5 1464.1,1339.8 1465.6,1353.5 1467.1,1336.7 1468.6,1343.5 1470.1,1325.4 1471.6,1331.5 1473.1,1345.2 1474.6,1348.1 1476.1,1325.0 1477.6,1346.7 1479.1,1326.0 1480.6,1332.3 1482.1,1328.9 1483.6,1348.9 1485.1,1315.8 1486.6,1355.8 1488.1,1333.6 1489.6,1342.4 1491.1,1339.8 1492.6,1346.3 1494.1,1333.6 1495.6,1343.1 1497.1,1319.8 1498.6,1348.2 1500.1,1334.1 1501.6,1335.0 1503.1,1350.4 1504.6,1335.7 1506.1,1350.4 1507.6,1330.8 1509.1,1362.0 1510.6,1339.6 1512.1,1359.4 1513.6,1341.1 1515.1,1358.5 1516.6,1331.2 1518.1,1349.5 1519.6,1334.5 1521.1,1348.5 1522.6,1327.0 1524.1,1339.9 1525.6,1321.6 1527.1,1333.7 1528.6,1352.3 1530.1,1308.0 1531.6,1334.7 1533.1,1329.0 1534.6,1334.8 1536.1,1312.1 1537.6,1346.4 1539.1,1317.0 1540.6,1339.7 1542.1,1319.2 1543.6,1355.3 1545.1,1331.3 1546.6,1346.6 1548.1,1324.1 1549.6,1342.9 1551.1,1328.6 1552.6,1342.7 1554.1,1329.8 1555.6,1334.6 1557.1,1324.7 1558.6,1345.8 1560.1,1317.9 1561.6,1350.1 1563.1,1333.6 1564.6,1348.3 1566.1,1321.2 1567.6,1350.2 1569.1,1324.9 1570.6,1357.9 1572.1,1327.7 1573.6,1351.5 1575.1,1338.2 1576.6,1350.3 1578.1,1335.4 1579.6,1353.2 1581.1,1341.4 1582.6,1349.9 1584.1,1340.4 1585.6,1356.1 1587.1,1336.8 1588.6,1330.1 1590.1,1359.2 1591.6,1353.6 1593.1,1335.6 1594.6,1302.7 1596.1,1335.3 1597.6,1341.6 1599.1,1324.1 1600.6,1357.4 1602.1,1324.1 1603.6,1340.4 1605.1,1317.1 1606.6,1336.7 1608.1,1317.3 1609.6,1336.8 1611.1,1335.6 1612.6,1336.7 1614.1,1332.0 1615.6,1348.1 1617.1,1365.4 1618.6,1343.8 1620.1,1338.2 1621.6,1342.8 1623.1,1333.0 1624.6,1341.0 1626.1,1334.9 1627.6,1350.3 1629.1,1347.3 1630.6,1347.7 1632.1,1328.2 1633.6,1350.6 1635.1,1320.8 1636.6,1347.7 1638.1,1329.6 1639.6,1340.6 1641.1,1329.6 1642.6,1343.6 1644.1,1332.8 1645.6,1347.5 1647.1,1350.4 1648.6,1332.2 1650.1,1339.8 1651.6,1327.9 1653.1,1354.8 1654.6,1322.8 1656.1,1340.6 1657.6,1332.6 1659.1,1352.1 1660.6,1327.6 1662.1,1343.4 1663.6,1332.8 1665.1,1347.8 1666.6,1327.1 1668.1,1348.7 1669.6,1325.5 1671.1,1353.6 1672.6,1343.6 1674.1,1340.2 1675.6,1348.7 1677.1,1327.2 1678.6,1354.9 1680.1,1328.6 1681.6,1355.5 1683.1,1324.7 1684.6,1326.2 1686.1,1352.4 1687.6,1326.2 1689.1,1341.7 1690.6,1334.2 1692.1,1338.8 1693.6,1333.5 1695.1,1340.7 1696.6,1326.9 1698.1,1354.4 1699.6,1325.3 1701.1,1336.8 1702.6,1322.7 1704.1,1353.0 1705.6,1325.6 1707.1,1338.9 1708.6,1318.8 1710.1,1352.2 1711.6,1324.4 1713.1,1353.3 1714.6,1331.2 1716.1,1344.3 1717.6,1324.3 1719.1,1319.9 1720.6,1339.4 1722.1,1319.5 1723.6,1355.0 1725.1,1329.7 1726.6,1353.4 1728.1,1322.5 1729.6,1349.0 1731.1,1324.1 1732.6,1351.8 1734.1,1321.9 1735.6,1349.8 1737.1,1340.6 1738.6,1319.7 1740.1,1333.3 1741.6,1321.2 1743.1,1344.9 1744.6,1320.4 1746.1,1318.9 1747.6,1342.2 1749.1,1323.5 1750.6,1312.8 1752.1,1329.0 1753.6,1317.6 1755.1,1340.6 1756.6,1369.6 1758.1,1334.8 1759.6,1311.3 1761.1,1345.7 1762.6,1318.8 1764.1,1334.1 1765.6,1326.7 1767.1,1349.2 1768.6,1320.4 1770.1,1354.5 1771.6,1330.4 1773.1,1342.3 1774.6,1336.6 1776.1,1348.0 1777.6,1325.9 1779.1,1322.4 1780.6,1343.0 1782.1,1333.0 1783.6,1351.4 1785.1,1332.0 1786.6,1345.0 1788.1,1325.6 1789.6,1326.2 1791.1,1344.2 1792.6,1327.8 1794.1,1334.5 1795.6,1326.3 1797.1,1347.7 1798.6,1329.2 1800.1,1306.0 1801.6,1332.0 1803.1,1345.3 1804.6,1334.1 1806.1,1350.2 1807.6,1318.1 1809.1,1340.7 1810.6,1322.6 1812.1,1336.0 1813.6,1319.1 1815.1,1359.1 1816.6,1324.0 1818.1,1339.8 1819.6,1328.2 1821.1,1339.4 1822.6,1322.0 1824.1,1344.2 1825.6,1316.1 1827.1,1341.9 1828.6,1332.6 1830.1,1339.4 1831.6,1331.4 1833.1,1347.3 1834.6,1332.2 1836.1,1347.5 1837.6,1326.2 1839.1,1356.1 1840.6,1326.3 1842.1,1346.9 1843.6,1346.4 1845.1,1322.3 1846.6,1351.4 1848.1,1326.3 1849.6,1349.9 1851.1,1335.4 1852.6,1338.4 1854.1,1341.7 1855.6,1337.1 1857.1,1341.7 1858.6,1347.4 1860.1,1318.7 1861.6,1339.4 1863.1,1329.5 1864.6,1322.7 1866.1,1345.4 1867.6,1352.6 1869.1,1315.8 1870.6,1349.6 1872.1,1343.3 1873.6,1322.5 1875.1,1344.4 1876.6,1331.4 1878.1,1347.8 1879.6,1334.6 1881.1,1355.8 1882.6,1348.4 1884.1,1325.4 1885.6,1343.7 1887.1,1327.3 1888.6,1351.2 1890.1,1332.5 1891.6,1351.3 1893.1,1318.6 1894.6,1354.5 1896.1,1325.3 1897.6,1340.7 1899.1,1321.3 1900.6,1371.0 1902.1,1335.2 1903.6,1352.3 1905.1,1333.2 1906.6,1332.6 1908.1,1347.7 1909.6,1328.6 1912.0,1328.2 1913.6,1326.8 1915.2,1323.4 1916.8,1322.7 1918.5,1320.2 1920.1,1323.8 1921.7,1313.9 1923.3,1312.1 1925.0,1304.6 1926.8,1296.1 1928.1,1285.4 1929.5,1280.1 1930.7,1264.5 1931.9,1248.1 1933.5,1235.0 1935.1,1224.0 1934.2,1190.6 1935.6,1180.8 1936.9,1181.9 1938.3,1185.6 1939.7,1190.9 1941.1,1189.9 1942.5,1187.7 1943.5,1193.8 1944.6,1197.9 1946.1,1211.0 1947.2,1197.5 1948.3,1190.6 1949.7,1193.1 1951.2,1186.3 1952.6,1173.9 1954.1,1183.4 1955.5,1197.9 1956.6,1189.5 1957.7,1176.1 1958.4,1136.9 1959.9,1133.4 1961.3,1135.4 1962.4,1135.5 1963.5,1125.3 1964.2,1096.2 1965.7,1095.1 1967.2,1094.8 1969.0,1096.7 1970.8,1096.2 1972.2,1074.4 1973.7,1055.5 1975.1,1052.6 1976.6,1074.4 1975.9,1110.7 1977.3,1117.0 1978.8,1118.0 1980.2,1154.3 1981.7,1158.7 1982.4,1132.5 1983.9,1128.9 1985.3,1128.2 1986.8,1154.3 1988.2,1183.4 1989.7,1197.9 1990.5,1220.8 1992.1,1230.9 1993.8,1232.8 1995.4,1243.3 1997.0,1248.0 1998.6,1240.9 2000.2,1254.5 2001.5,1257.1 2002.8,1272.2 2004.2,1272.1 2005.4,1278.1 2006.6,1296.1 2008.2,1304.5 2009.8,1312.1 2011.4,1312.2 2013.0,1314.1 2014.6,1325.5 2016.2,1328.2 2017.8,1333.1 2019.4,1344.2 2021.7,1327.1 2023.2,1346.0 2024.7,1331.3 2026.2,1361.4 2027.7,1333.4 2029.2,1330.8 2030.7,1340.0 2032.2,1315.4 2033.7,1344.4 2035.2,1331.9 2036.7,1362.2 2038.2,1330.0 2039.7,1358.2 2041.2,1326.9 2042.7,1353.8 2044.2,1330.5 2045.7,1346.5 2047.2,1331.9 2048.7,1344.5 2050.2,1327.2 2051.7,1350.6 2053.2,1335.9 2054.7,1348.8 2056.2,1320.8 2057.7,1352.5 2059.2,1327.1 2060.7,1343.6 2062.2,1327.0 2063.7,1345.7 2065.2,1328.2 2066.7,1348.7 2068.2,1338.8 2069.7,1342.2 2071.2,1330.1 2072.7,1342.9 2074.2,1334.6 2075.7,1354.6 2077.2,1327.9 2078.7,1347.0 2080.2,1327.5 2081.7,1358.6 2083.2,1331.7 2084.7,1302.5 2086.2,1327.8 2087.7,1339.3 2089.2,1352.1 2090.7,1330.6 2092.2,1343.9 2093.7,1327.5 2095.2,1368.0 2096.7,1340.4 2098.2,1317.3 2099.7,1354.9 2101.2,1325.3 2102.7,1356.9 2104.2,1327.5 2105.7,1290.0 2107.2,1273.7 2108.7,1337.2 2110.2,1319.2 2111.7,1338.1 2113.2,1348.9 2114.7,1321.8 2116.2,1344.3 2117.7,1334.1 2119.2,1344.7 2120.7,1333.6 2122.2,1346.9 2123.7,1323.7 2125.2,1346.0 2126.7,1304.5 2128.2,1335.1 2129.7,1325.1 2131.2,1342.1 2132.7,1319.5 2134.2,1346.0 2135.7,1316.3 2137.2,1351.1 2138.7,1323.4 2140.2,1340.4 2141.7,1319.9 2143.2,1345.0 2144.7,1317.7 2146.2,1349.9 2147.7,1325.2 2149.2,1352.6 2150.7,1343.0 2152.2,1328.4 2153.7,1316.2 2155.2,1342.7 2156.7,1326.8 2158.2,1328.5 2159.7,1337.7 2161.2,1312.8 2162.7,1347.8 2164.2,1317.4 2165.7,1336.1 2167.2,1332.2 2168.7,1338.7 2170.2,1324.2 2171.7,1348.9 2173.2,1323.4 2174.7,1342.8 2176.2,1321.2 2177.7,1339.6 2179.2,1328.9 2180.7,1349.0 2182.2,1324.0 2183.7,1371.4 2185.2,1323.8 2186.7,1324.9 2188.2,1343.6 2189.7,1319.5 2191.2,1346.4 2192.7,1344.1 2194.2,1332.4 2195.7,1338.6 2197.2,1329.0 2198.7,1344.0 2200.2,1324.7 2201.7,1340.2 2203.2,1332.2 2204.7,1341.7 2206.2,1324.9 2207.7,1341.0 2209.2,1333.4 2210.7,1315.4 2212.2,1339.2 2213.7,1305.7 2215.2,1322.1 2216.7,1335.8 2218.2,1334.5"/>
</g>
<g stroke="#000" fill="none" stroke-linecap="butt">
<path stroke-width="6.2" d="M325.04999999999995 50.85H2292.5499999999997M325.04999999999995 1500.7H2292.5499999999997"/>
<path stroke-width="5.7" d="M327.9 50.85V1500.7M2289.7 50.85V1500.7"/>
<path stroke-width="5.7" d="M327.9 1500.7v31.0M327.9 50.85v-31.0M468.0 1500.7v16.3M468.0 50.85v-16.3M608.2 1500.7v31.0M608.2 50.85v-31.0M748.3 1500.7v16.3M748.3 50.85v-16.3M888.4 1500.7v31.0M888.4 50.85v-31.0M1028.5 1500.7v16.3M1028.5 50.85v-16.3M1168.7 1500.7v31.0M1168.7 50.85v-31.0M1308.8 1500.7v16.3M1308.8 50.85v-16.3M1448.9 1500.7v31.0M1448.9 50.85v-31.0M1589.1 1500.7v16.3M1589.1 50.85v-16.3M1729.2 1500.7v31.0M1729.2 50.85v-31.0M1869.3 1500.7v16.3M1869.3 50.85v-16.3M2009.4 1500.7v31.0M2009.4 50.85v-31.0M2149.6 1500.7v16.3M2149.6 50.85v-16.3M2289.7 1500.7v31.0M2289.7 50.85v-31.0"/>
<path stroke-width="5.9" d="M327.9 1500.7h-31.0M2289.7 1500.7h31.0M327.9 1420.2h-16.3M2289.7 1420.2h16.3M327.9 1339.6h-31.0M2289.7 1339.6h31.0M327.9 1259.1h-16.3M2289.7 1259.1h16.3M327.9 1178.5h-31.0M2289.7 1178.5h31.0M327.9 1098.0h-16.3M2289.7 1098.0h16.3M327.9 1017.4h-31.0M2289.7 1017.4h31.0M327.9 936.9h-16.3M2289.7 936.9h16.3M327.9 856.3h-31.0M2289.7 856.3h31.0M327.9 775.8h-16.3M2289.7 775.8h16.3M327.9 695.2h-31.0M2289.7 695.2h31.0M327.9 614.7h-16.3M2289.7 614.7h16.3M327.9 534.1h-31.0M2289.7 534.1h31.0M327.9 453.6h-16.3M2289.7 453.6h16.3M327.9 373.0h-31.0M2289.7 373.0h31.0M327.9 292.5h-16.3M2289.7 292.5h16.3M327.9 211.9h-31.0M2289.7 211.9h31.0M327.9 131.4h-16.3M2289.7 131.4h16.3M327.9 50.8h-31.0M2289.7 50.8h31.0"/>
</g>
<g font-family="'Liberation Sans', Arial, Helvetica, sans-serif" font-size="64" fill="#000">
<text transform="translate(327.9 1600.6) scale(1 1.06)" text-anchor="middle">0</text>
<text transform="translate(608.2 1600.6) scale(1 1.06)" text-anchor="middle">500</text>
<text transform="translate(888.4 1600.6) scale(1 1.06)" text-anchor="middle">1000</text>
<g transform="translate(888.4 1600.6) scale(1 1.06)"><rect x="-67.91" y="-6.38" width="12.82" height="7.78" fill="#fff" stroke="none"/><rect x="-49.44" y="-6.38" width="12.32" height="7.78" fill="#fff" stroke="none"/></g>
<text transform="translate(1168.7 1600.6) scale(1 1.06)" text-anchor="middle">1500</text>
<g transform="translate(1168.7 1600.6) scale(1 1.06)"><rect x="-67.91" y="-6.38" width="12.82" height="7.78" fill="#fff" stroke="none"/><rect x="-49.44" y="-6.38" width="12.32" height="7.78" fill="#fff" stroke="none"/></g>
<text transform="translate(1448.9 1600.6) scale(1 1.06)" text-anchor="middle">2000</text>
<text transform="translate(1729.2 1600.6) scale(1 1.06)" text-anchor="middle">2500</text>
<text transform="translate(2009.4 1600.6) scale(1 1.06)" text-anchor="middle">3000</text>
<text transform="translate(2289.7 1600.6) scale(1 1.06)" text-anchor="middle">3500</text>
<text transform="translate(278.5 1519.4) scale(1 1.06)" text-anchor="end">-50</text>
<text transform="translate(278.5 1358.3) scale(1 1.06)" text-anchor="end">0</text>
<text transform="translate(278.5 1197.2) scale(1 1.06)" text-anchor="end">50</text>
<text transform="translate(278.5 1036.1) scale(1 1.06)" text-anchor="end">100</text>
<g transform="translate(278.5 1036.1) scale(1 1.06)"><rect x="-103.51" y="-6.38" width="12.82" height="7.78" fill="#fff" stroke="none"/><rect x="-85.03" y="-6.38" width="12.32" height="7.78" fill="#fff" stroke="none"/></g>
<text transform="translate(278.5 875.0) scale(1 1.06)" text-anchor="end">150</text>
<g transform="translate(278.5 875.0) scale(1 1.06)"><rect x="-103.51" y="-6.38" width="12.82" height="7.78" fill="#fff" stroke="none"/><rect x="-85.03" y="-6.38" width="12.32" height="7.78" fill="#fff" stroke="none"/></g>
<text transform="translate(278.5 713.9) scale(1 1.06)" text-anchor="end">200</text>
<text transform="translate(278.5 552.8) scale(1 1.06)" text-anchor="end">250</text>
<text transform="translate(278.5 391.7) scale(1 1.06)" text-anchor="end">300</text>
<text transform="translate(278.5 230.6) scale(1 1.06)" text-anchor="end">350</text>
<text transform="translate(278.5 69.5) scale(1 1.06)" text-anchor="end">400</text>
</g>
<g font-family="'Liberation Sans', Arial, Helvetica, sans-serif" font-size="78" fill="#000" stroke="#000" stroke-width="1.2" stroke-linejoin="round">
<text transform="translate(1309.5 1719.8) scale(1 1.022)" text-anchor="middle">Raman shift (rel. 1/cm)</text>
<g transform="translate(1309.5 1719.8) scale(1 1.022)"><rect x="203.10" y="-8.03" width="15.27" height="10.03" fill="#fff" stroke="none"/><rect x="226.46" y="-8.03" width="14.49" height="10.03" fill="#fff" stroke="none"/></g>
<text transform="translate(80.2 750.4) rotate(-90)" text-anchor="middle">intensity (a.u.)</text>
</g>
<rect x="1780.6" y="65.8" width="492.4" height="191.6" fill="#fff" stroke="#1c1c1c" stroke-width="2.7"/>
<line x1="1817.5" y1="117" x2="1995" y2="117" stroke="#000" stroke-width="4.6"/>
<line x1="1817.5" y1="212.4" x2="1995" y2="212.4" stroke="#ff0000" stroke-width="3.6"/>
<g font-family="'Liberation Sans', Arial, Helvetica, sans-serif" font-size="78" fill="#000" stroke="#000" stroke-width="1.2" stroke-linejoin="round">
<text x="2013.4" y="144" letter-spacing="0.45">human</text>
<text x="2014.8" y="239.6">yak</text>
</g>
</g>
</svg>
</body></html>
